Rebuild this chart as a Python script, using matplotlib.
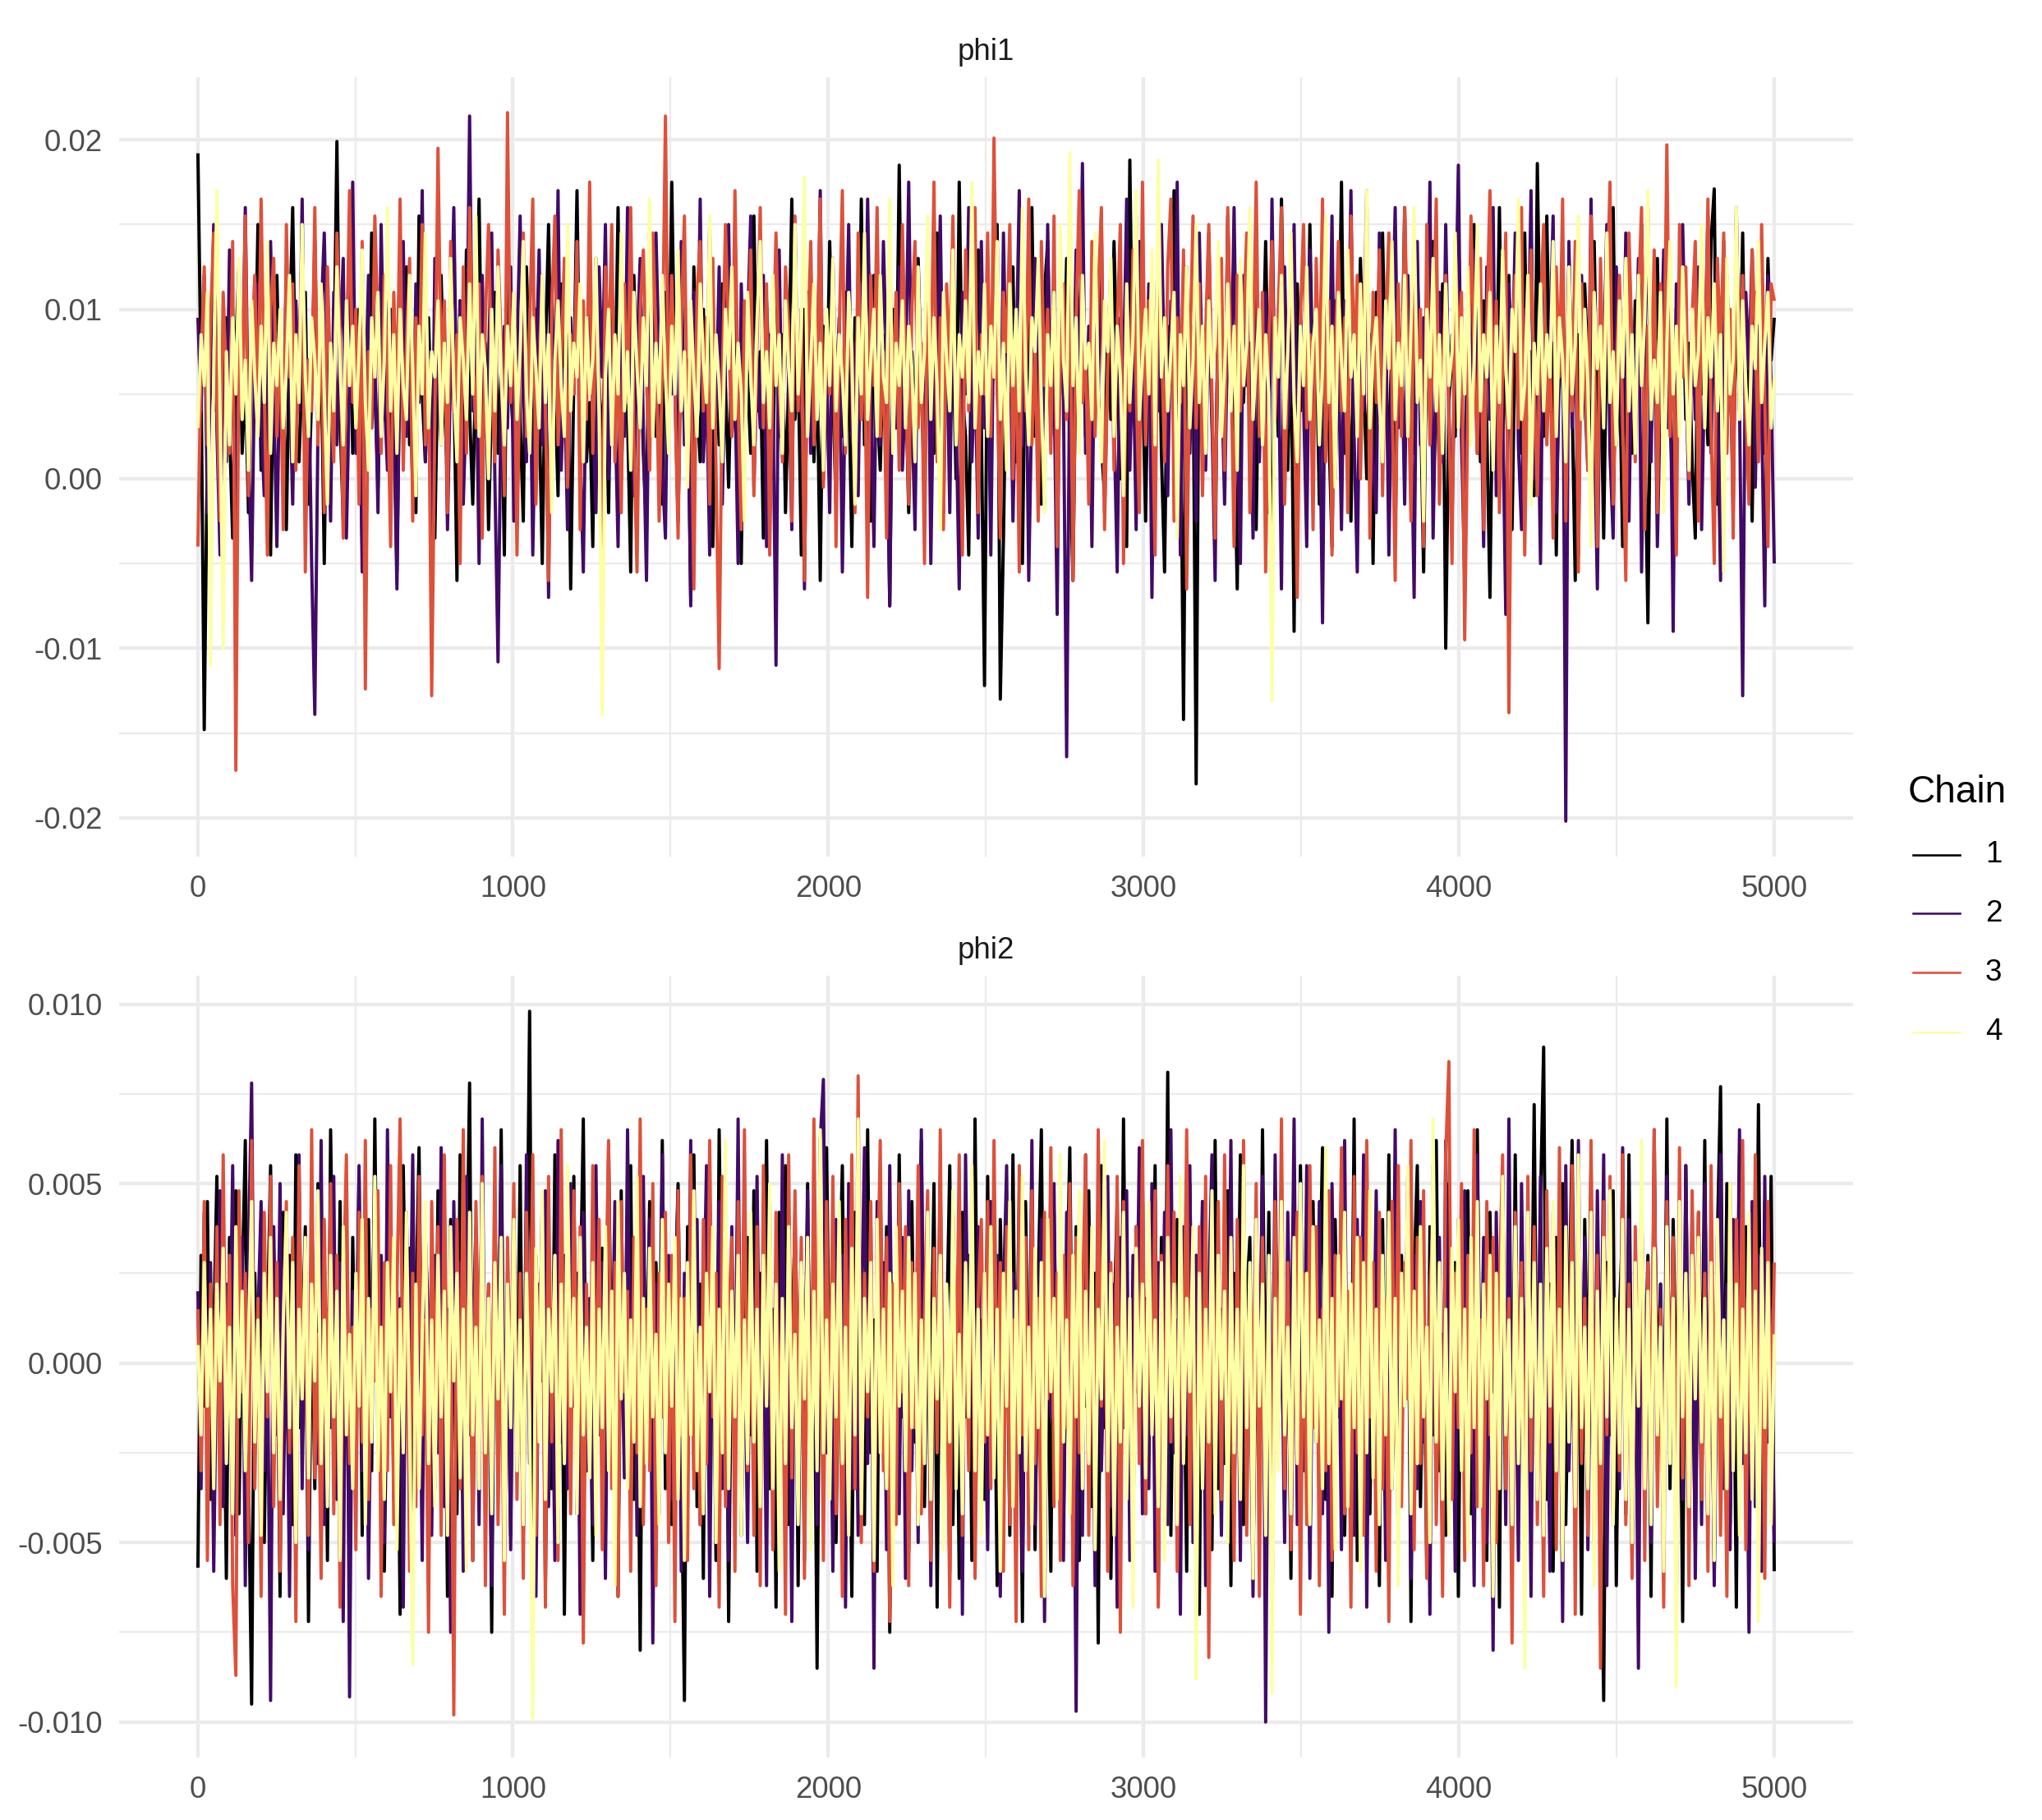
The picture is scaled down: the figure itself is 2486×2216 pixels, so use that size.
import numpy as np
import matplotlib
matplotlib.use("Agg")
import matplotlib.pyplot as plt
from matplotlib.ticker import FixedLocator, MultipleLocator
from matplotlib.lines import Line2D

# Trace values read (estimated) from the picture, in units of 1e-4,
# one value per ~10 iterations, 4 chains per parameter
phi1_chain1 = [
    192, 60, -148, 20, 75, 40, 110, -10, 55, 95, 30, -35, 80, 125, 15, 60, -20, 100, 45, 150, 5, 70, 35, -45, 90,
    120, 25, 55, -30, 85, 160, 40, 10, 65, 110, -15, 50, 140, 30, 75, -50, 95, 20, 60, 199, 35, -25, 80, 130, 15,
    45, 100, -40, 70, 25, 145, 55, -5, 85, 35, 115, 0, 60, -55, 90, 40, 125, 20, 65, -20, 155, 50, 10, 95, 30,
    -35, 75, 120, 45, 5, 85, 60, -60, 105, 25, 135, 40, -15, 70, 165, 35, 80, -30, 50, 110, 15, 65, -45, 140, 55,
    20, 90, 35, -25, 125, 60, 5, 100, 45, -50, 75, 150, 30, 55, -10, 115, 40, 85, -65, 60, 170, 25, 95, 10, 45,
    -40, 130, 55, 20, 80, -20, 105, 45, 160, 0, 70, 35, -55, 120, 50, 90, 15, -30, 145, 60, 25, 85, -15, 110, 40,
    175, 55, -25, 90, 30, 65, -70, 125, 45, 10, 100, 35, 150, -40, 70, 20, 115, 55, -5, 80, 135, 30, -50, 95, 60,
    15, 155, 40, 75, -35, 105, 50, 0, 130, 25, 85, -20, 60, 165, 35, 70, -45, 100, 45, 120, 10, 65, -60, 90, 30,
    140, 50, -15, 80, 25, 110, 60, -40, 95, 35, 165, 20, 70, -25, 120, 45, 5, 85, 55, -75, 100, 30, 185, 40, 65,
    -20, 75, 20, 130, 55, -5, 90, 35, 15, 145, 60, -20, 105, 40, 80, 0, 175, 50, 25, -45, 95, 65, 135, 30, -122,
    115, 45, 75, 150, -130, -35, 90, 55, 125, 10, 70, -50, 100, 40, 160, 25, 60, -15, 110, 140, 35, 80, -30, 95, 50,
    130, 15, -60, 85, 45, 105, 25, 70, 40, 120, 50, 20, -10, 95, 35, 140, 60, 0, 80, -40, 188, 45, 155, 30, 65,
    -25, 100, 40, 75, 135, 15, -55, 90, 55, 170, 25, 60, -142, 110, 45, 80, -180, 125, 20, 65, 145, 35, -20, 95, 50,
    10, 155, 60, 30, -65, 85, 45, 120, 20, 70, -30, 100, 55, 140, 35, -45, 80, 25, 165, 50, 5, 90, -90, 115, 40,
    65, 20, 150, 45, 85, -15, 60, 125, 30, -40, 105, 55, 175, 15, 70, -25, 95, 40, 130, 60, 0, 85, -50, 110, 35,
    145, 55, 20, 80, -35, 100, 45, 160, 30, 65, 15, 125, 50, -55, 90, 35, 140, 70, 5, 115, -100, 45, 85, 25, 135,
    55, -20, 95, 40, 150, 65, 10, 105, 30, -70, 80, 45, 160, 25, 60, 120, -30, 90, 50, 15, 145, 35, 75, -10, 186,
    60, 25, 155, 40, 80, -45, 100, 55, 20, 130, 45, -60, 85, 35, 115, 65, 0, 140, 30, 75, -35, 95, 50, 160, 20,
    70, -40, 125, 45, 15, 105, 60, 150, 30, -85, 90, 50, 130, 25, 70, 155, 40, -20, 100, 55, 120, 35, 80, 10, -35,
    115, 50, 75, 20, 140, 171, -15, 95, 30, 120, 60, 5, 105, 40, 145, 25, 80, -25, 110, 55, 90, 15, 130, 70, 95,
]
phi1_chain2 = [
    95, 40, 120, -20, 65, 150, 30, -45, 85, 10, 135, 55, -30, 100, 45, 160, 20, -60, 75, 115, 35, -10, 90, 140, 50,
    -40, 80, 25, 125, 60, -15, 105, 40, 165, 5, 70, -50, -139, 30, 95, 145, 55, -25, 110, 20, 80, 130, -35, 60, 175,
    15, 90, -55, 45, 120, 30, 70, -20, 150, 50, 5, 100, 35, -65, 85, 140, 25, 60, -5, 115, 45, 170, 10, 75, -40,
    130, 55, 20, 95, -30, 65, 160, 35, 105, -15, 50, 214, 40, 80, -50, 120, 25, 70, 145, 0, -108, 55, 90, 30, 125,
    -25, 75, 155, 45, 10, 100, -45, 60, 135, 20, 85, -70, 115, 40, 170, 5, 65, -30, 95, 50, 140, 15, -55, 80, 110,
    35, -20, 125, 60, 150, 0, 90, 45, -40, 105, 25, 160, 55, -10, 75, 130, 30, -60, 100, 40, 145, 65, 5, -35, 120,
    50, 85, -25, 140, 20, 70, -75, 110, 45, 165, 10, 60, -45, 95, 35, 125, -15, 80, 150, 25, 55, -50, 115, 40, 90,
    155, -5, 70, 30, 120, -40, 85, 50, -110, 135, 20, 100, 60, -30, 145, 40, 75, -65, 110, 15, 90, 55, 170, 0, 65,
    -20, 130, 45, 95, -55, 60, 150, 25, 80, -10, 115, 35, 165, 50, -40, 100, 20, 140, 65, -75, 85, 30, 125, 5, 55,
    175, 40, -30, 105, 60, 15, 135, -50, 75, 45, 155, 20, 90, -20, 120, 35, -65, 110, 50, 160, 10, 70, -35, 140, 30,
    85, -45, 115, 55, 0, 145, 40, 95, -25, 65, 170, 20, 105, -60, 50, 130, 35, 80, -15, 150, 25, 60, -80, 120, 45,
    -164, 75, 30, 135, 55, 186, 15, 90, -40, 110, 45, 155, -20, 70, 125, 35, -55, 95, 60, 165, 5, 80, -30, 140, 50,
    20, 115, -70, 85, 40, 150, 60, -10, 105, 30, 175, -45, 70, 125, 15, 90, -25, 145, 50, 5, 100, 35, -60, 130, 65,
    -15, 95, 45, 160, 25, -50, 120, 55, 80, -35, 140, 10, 70, 110, -20, 165, 40, 85, -65, 125, 30, 60, 150, -5, 100,
    45, -40, 135, 20, 90, 60, -85, 115, 35, 155, 0, 75, -30, 105, 50, 170, 25, -55, 95, 40, 130, 65, 10, -20, 145,
    55, 100, -45, 75, 160, 30, 85, -15, 120, 45, -70, 140, 20, 95, 55, 175, -35, 65, 110, 10, 150, 40, -25, 80, 185,
    25, -60, 105, 50, 135, 15, 70, -40, 125, 35, 160, -10, 90, 45, -80, 115, 60, 145, 20, -30, 100, 55, 170, 0, 75,
    -50, 130, 40, 85, 155, -20, 65, 110, -202, 140, 30, 95, -45, 120, 50, 5, 165, 35, -65, 100, 70, 150, 15, -35, 125,
    60, 20, 145, -25, 90, 45, 130, -55, 75, 160, 10, 105, -40, 55, 135, 30, 80, -90, 115, 40, 150, 65, -15, 95, 35,
    125, -30, 70, 155, 15, 100, 50, -60, 140, 25, 85, -20, 160, 45, -128, 110, 65, 135, -5, 90, 40, -75, 120, 55, -50,
]
phi1_chain3 = [
    -40, 70, 125, 20, 95, 145, 45, -25, 110, 60, 15, 140, -172, 85, 35, 155, -10, 75, 120, 30, 165, 50, -45, 100, 130,
    25, 90, -30, 150, 60, 115, 5, 80, 135, -55, 70, 40, 160, 20, 105, -20, 125, 55, 10, 145, 85, -35, 65, 170, 45,
    100, -15, 140, -124, 75, 30, 155, 90, 15, 120, 60, -40, 110, 45, 165, 5, 80, 130, -25, 95, 50, 150, 20, 70, -128,
    35, 195, 60, 105, -20, 140, 40, 85, -50, 125, 15, 160, 70, 30, 115, -35, 95, 150, 55, 10, 135, 80, -10, 216, 45,
    110, -45, 75, 145, 25, 90, 165, -15, 60, 120, 40, -60, 100, 155, 20, 70, 130, -5, 85, 50, 140, -30, 105, 35, 175,
    15, 95, 55, -40, 125, 70, 150, 10, 80, -20, 115, 45, 160, 25, -55, 100, 135, 60, 5, 145, 85, -25, 65, 214, 30,
    120, 50, -35, 90, 155, 20, 75, -65, 110, 140, 40, 95, -15, 130, 5, -112, 60, 150, 85, 25, 170, 45, -30, 105, 65,
    135, -10, 80, 160, 30, 115, -45, 70, 145, 55, 10, 125, 90, -25, 155, 40, 100, -60, 75, 140, 20, 60, 165, -5, 95,
    50, 130, -40, 85, 170, 15, 105, 60, -20, 145, 35, 90, -70, 120, 55, 160, 25, 75, -35, 135, 45, 110, 5, 150, 65,
    -15, 100, 140, 30, 80, -50, 125, 55, 175, 10, 95, -30, 115, 65, 155, 20, 70, -45, 135, 40, 105, 160, -20, 85, 50,
    145, 25, 201, 60, -35, 110, 75, 150, 0, 90, -55, 125, 40, 165, 20, 80, -25, 140, 55, 100, 15, 155, -40, 70, 115,
    35, 130, -60, 95, 170, 45, 75, -15, 140, 25, 110, 160, -30, 65, 120, 5, 90, 150, -50, 85, 40, 135, 55, -20, 175,
    20, 105, 60, -45, 145, 80, 10, 125, 165, -25, 95, 45, 135, -65, 70, 155, 30, 115, -10, 85, 150, 50, -35, 100, 130,
    5, 160, 70, -40, 120, 40, 90, 145, -20, 65, 175, 25, 110, -55, 80, 140, 35, 100, 160, -15, 75, 125, 50, -70, 95,
    150, 30, 85, -30, 130, 55, 165, 10, 105, -45, 70, 140, 40, 95, -20, 155, 65, 120, 0, 85, 170, -35, 110, 45, 135,
    -10, 90, 145, 55, -60, 115, 25, 160, 75, -25, 130, 50, 100, -40, 150, 20, 85, 165, -15, 60, 120, 35, -50, 140, 80,
    110, -95, 45, 155, 70, 15, 130, -30, 90, 170, 40, 105, -20, 65, 145, -138, 85, 120, 30, 160, -45, 75, 135, 55, -10,
    100, 150, 20, 80, -35, 125, 60, 165, -25, 95, 40, 140, -55, 115, 70, 5, 155, 85, -40, 130, 45, 100, 175, -15, 65,
    120, 35, -60, 145, 75, 10, 105, 160, -30, 90, 50, 135, -20, 115, 40, 197, 25, 80, -45, 150, 60, 125, 0, 95, 140,
    -25, 110, 55, 165, 30, -50, 130, 75, 145, 15, 100, -35, 155, 60, 120, 40, -15, 135, 85, 10, 150, 45, -40, 115, 105,
]
phi1_chain4 = [
    30, 85, 55, 110, -110, 65, 170, 40, -100, 75, 20, 95, 50, 130, 35, 70, 5, 105, 60, 25, 90, 45, 140, 15, 80,
    55, 100, 30, 65, 120, 10, 85, 45, 150, 60, 25, 95, 70, 35, 115, 50, -15, 80, 40, 125, 65, 20, 105, 55, 90,
    30, 75, 135, 45, 5, 95, 60, 110, 25, 70, 160, 40, 85, 15, 100, 55, 35, 120, 65, -10, 90, 50, 145, 30, 75,
    60, 105, 20, 80, 45, 130, 55, 10, 95, 70, 35, 115, 50, 155, 25, 85, 65, 0, 100, 40, 125, 60, 20, 90, 55,
    110, 35, 75, 140, 50, 15, 95, 65, 30, 120, 45, 85, -20, 70, 105, 55, 25, 150, 40, 80, 60, 115, 10, 95, 50,
    70, 130, 35, -139, 60, 100, 20, 85, 50, 145, 40, 75, 5, 110, 65, 30, 95, 55, 165, 25, 80, 45, 120, 60, 15,
    90, 50, 135, 40, 75, -5, 105, 60, 25, 115, 70, 45, 155, 30, 85, 55, 10, 100, 65, 125, 35, 80, 50, -25, 110,
    60, 20, 95, 140, 45, 75, 30, 120, 55, 85, 15, 105, 65, 40, 150, 50, 90, 178, 25, 70, 115, 35, 80, 5, 100,
    55, 130, 40, 85, 60, 20, 110, 75, -15, 95, 50, 145, 35, 70, 100, 25, 120, 60, 45, 165, 15, 80, 55, 105, 30,
    90, 65, 10, 125, 45, 75, 155, 35, 95, 55, -30, 110, 70, 40, 135, 20, 85, 60, 105, 45, 175, 30, 75, 50, 115,
    25, 90, 60, 140, 35, 80, 5, 115, 55, 100, 40, 160, 65, 20, 95, 75, 130, 45, -20, 85, 55, 110, 30, 150, 70,
    40, 192, 55, 95, 15, 120, 65, 80, 35, 145, 50, 10, 105, 75, 130, 25, 90, 60, -10, 115, 45, 85, 170, 35, 70,
    100, 50, 135, 20, 188, 60, 95, 40, 75, 110, -35, 85, 55, 125, 30, 70, 150, 45, 90, 15, 105, 60, 80, 140, 25,
    65, 115, 40, 90, 5, 130, 55, 80, 160, 35, 70, 100, 20, 85, 50, -131, 95, 60, 120, 30, 75, 145, 45, 10, 90,
    55, 125, 35, 80, 100, 20, 65, 155, 45, 90, -5, 110, 70, 40, 135, 60, 85, 25, 115, 50, 170, 30, 75, 95, 45,
    10, 105, 65, 140, 35, 80, 55, 120, 25, 90, 160, 45, 70, -25, 100, 60, 130, 40, 85, 15, 115, 55, 75, 145, 30,
    95, 50, 125, 20, 70, 150, 40, 85, 60, 110, 5, 90, 45, 135, 65, 30, 100, 75, 165, 35, 55, 120, -15, 80, 50,
    115, 40, 85, 60, 140, 25, 95, 70, 10, 125, 50, 80, 155, 35, 100, 55, -40, 110, 65, 90, 30, 145, 45, 75, 20,
    105, 60, 130, 40, 85, 15, 120, 55, 95, 170, 35, 70, 45, 110, -20, 80, 140, 50, 90, 25, 125, 65, 5, 100, 55,
    75, 150, 30, 95, 60, 115, 40, 85, -55, 130, 50, 70, 160, 35, 105, 55, 20, 90, 65, 140, 45, 80, 110, 30, 60,
]

phi2_chain1 = [
    -57, 30, -12, 45, -38, 8, 52, -25, 15, -60, 35, -5, 48, -42, 20, 62, -30, -95, 25, -15, 40, -50, 10, 55, -22,
    18, -65, 42, -8, 30, -45, 58, -18, 5, 38, -72, 22, -35, 50, -10, 28, -55, 65, 0, -28, 45, -40, 15, -62, 35,
    -20, 52, -48, 12, 40, -30, 68, -15, 25, -58, 8, 45, -38, 20, -70, 55, -5, 32, -45, 15, 60, -25, 38, -52, 10,
    -35, 48, -12, 28, -65, 40, 5, -42, 58, -20, 18, 78, -55, 35, -8, 50, -32, 22, -75, 42, -15, 65, -28, 12, -48,
    38, -22, 55, -40, 8, 98, -50, 30, -12, 45, -62, 20, -35, 58, -5, 40, -70, 25, -18, 52, -42, 15, 68, -30, 5,
    -55, 42, -20, 32, -48, 60, -10, 25, -65, 48, -28, 10, 55, -38, 18, -80, 35, -8, 45, -52, 28, -15, 62, -35, 22,
    -45, 15, 50, -25, -94, 38, -12, 58, -40, 22, -60, 45, -18, 30, -55, 65, -5, 40, -72, 18, -30, 52, -48, 8, 35,
    -20, 48, -58, 25, -10, 62, -35, 15, -68, 42, -22, 55, -45, 5, 38, -62, 28, -15, 50, -40, 20, -85, 45, -28, 60,
    -12, 35, -50, 18, 55, -32, 8, -65, 42, -18, 28, -45, 65, -25, 12, -58, 48, -8, 38, -75, 22, -35, 58, -15, 30,
    -52, 45, -22, 15, 62, -40, 25, -10, 50, -68, 35, -28, 8, 55, -45, 20, -60, 42, -15, 30, -55, 68, -20, 12, -38,
    52, -25, 18, -62, 40, -8, 28, -48, 58, -30, 10, -72, 45, -15, 35, -52, 22, 65, -38, 5, -58, 42, -20, 30, -45,
    15, 60, -28, 38, -55, 20, -12, 48, -40, 25, -78, 55, -18, 32, -60, 10, 45, -35, 68, -22, 15, -50, 38, -8, 52,
    -42, 28, -15, 55, -65, 35, -25, 81, -48, 18, 40, -30, 12, -58, 50, -20, 30, -70, 45, -5, 22, -52, 62, -35, 15,
    -28, 48, -62, 25, -10, 58, -45, 18, 35, -55, 8, -32, 65, -20, 42, -75, 28, -12, 50, -40, 20, -60, 38, -25, 55,
    -8, 32, -52, 45, -22, 15, 60, -38, 25, -65, 40, -15, 52, -48, 10, -30, 68, -55, 35, -18, 48, -42, 22, 5, -62,
    40, -25, 58, -35, 12, -50, 30, -10, 45, -72, 25, 55, -40, 18, -58, 38, -20, 62, -30, 8, -48, 50, -15, 28, -65,
    35, -18, 48, -42, 20, 65, -28, 10, -55, 42, -8, 30, -68, 52, -22, 15, -45, 58, -35, 25, -60, 38, -12, 72, -30,
    45, 88, -38, 22, -58, 35, -15, 50, -45, 12, 62, -25, 30, -70, 40, -10, 55, -50, 18, -32, -94, 28, -20, 48, -62,
    15, 38, -42, 58, -25, 10, -55, 45, -18, 30, -65, 52, -8, 22, -48, 68, -35, 40, -12, 25, -72, 55, -28, 8, -50,
    42, -20, 62, -38, 15, -58, 35, 77, -30, 50, -45, 20, -68, 58, -12, 38, -52, 28, -22, 72, -40, 45, -15, 52, -58,
]
phi2_chain2 = [
    20, -35, 42, -15, 28, -58, 10, 48, -40, 22, -8, 55, -48, 15, 35, -62, 30, 78, -25, 12, 45, -30, 5, -94, 38,
    -20, 50, -42, 18, -65, 32, -10, 58, -35, 25, -52, 40, 8, -28, 62, -45, 15, -18, 52, -38, 28, -72, 45, -93, 20,
    -12, 55, -30, 38, -60, 10, 48, -22, 30, -50, 65, -15, 25, -42, 18, -68, 42, -8, 58, -35, 22, -55, 35, 12, -48,
    30, -25, 60, -40, 15, -75, 45, -10, 28, -58, 52, -20, 8, 38, -45, 68, -30, 20, -62, 42, -15, 55, -38, 25, -52,
    40, -18, 12, -48, 58, -28, 35, -65, 22, -5, 48, -40, 15, -55, 62, -22, 30, -35, 50, -12, 25, -70, 42, -30, 18,
    -45, 55, -20, 28, -60, 38, -8, 45, -52, 20, -32, 65, -15, 35, -48, 10, 52, -25, 40, -78, 22, -42, 58, -10, 30,
    -38, 15, 48, -58, 25, -18, 62, -30, 40, -45, 8, 55, -65, 28, -12, 45, -35, 18, -55, 38, -22, 68, -40, 12, -50,
    35, -15, 52, -28, 20, -62, 45, -38, 10, -48, 58, -20, 30, -72, 42, -8, 25, -55, 48, -32, 15, -45, 62, 79, -25,
    18, -58, 40, -12, 30, -68, 50, -35, 22, -48, 10, 60, -28, 38, -85, 45, -15, 28, -52, 55, -22, 12, -42, 35, -60,
    48, -30, 20, -50, 65, -18, 35, -62, 25, -8, 52, -40, 15, -58, 42, -25, 30, -70, 58, -12, 22, -48, 38, -35, 10,
    -52, 45, -20, 30, -65, 18, 55, -38, 25, -10, 48, -58, 35, -28, 62, -45, 12, 40, -72, 20, -15, 50, -35, 28, -55,
    42, -22, 15, -97, 38, -48, 58, -12, 25, -62, 45, -30, 10, 52, -40, 22, -68, 35, -18, 48, -55, 30, -8, 60, -42,
    18, -35, 50, -58, 28, -15, 42, -45, 65, -25, 12, -70, 38, -20, 55, -50, 30, -8, 45, -62, 20, 58, -32, 15, -48,
    35, -18, 62, -40, 22, -55, 48, -28, 10, -65, 40, -12, 52, -100, 28, -35, 58, -22, 15, -50, 42, -8, 68, -45, 25,
    -30, 55, -60, 18, -20, 45, -42, 32, -75, 50, -15, 28, -52, 62, -35, 12, -48, 40, -25, 58, -68, 22, -10, 48, -38,
    15, -55, 38, -28, 65, -42, 20, -12, 52, -60, 30, -35, 45, -22, 8, -70, 55, -18, 35, -48, 62, -30, 25, -58, 40,
    -15, 48, -38, 22, -62, 58, -25, 35, -50, 12, -80, 42, -20, 30, -45, 68, -32, 18, -55, 50, -12, 28, -65, 38, -22,
    52, -40, 15, -58, 42, -18, 25, -72, 55, -30, 10, -48, 62, -25, 35, -52, 20, -38, 48, -15, 58, -62, 30, -45, 12,
    -35, 60, -22, 40, -55, 18, -85, 45, -12, 28, -50, 65, -30, 22, -42, 52, -18, 35, -68, 15, -38, 55, -25, 42, -60,
    25, -45, 50, -20, 32, -62, 12, 58, -35, 22, -52, 40, -15, 65, -28, 18, -75, 45, -40, 30, -58, 52, -22, 15, -50,
]
phi2_chain3 = [
    15, -30, 45, -55, 22, -12, 38, -45, 58, -20, 30, -62, -87, 48, -8, 25, -50, 62, -35, 18, -65, 42, -15, 52, -40,
    28, -58, 12, 45, -25, 35, -72, 55, -10, 20, -48, 65, -32, 8, -60, 40, -18, 50, -42, 30, -68, 18, 58, -28, 10,
    -52, 42, -22, 62, -38, 15, -5, 48, -65, 28, -30, 55, -45, 20, 68, -15, 35, -58, 25, -40, 52, -20, 12, -75, 45,
    -10, 38, -48, 58, -25, 18, -98, 40, -35, 65, -18, 28, -55, 45, -8, 52, -62, 22, -30, 60, -45, 15, -70, 35, -12,
    50, -38, 25, -60, 42, -15, 58, -48, 10, 35, -68, 52, -22, 30, -55, 65, -28, 18, -42, 48, -12, 38, -78, 22, -32,
    55, -18, 40, -52, 12, 62, -35, 28, -65, 45, -8, 20, -58, 35, -25, 68, -45, 15, -30, 50, -62, 25, -15, 42, -50,
    30, -72, 48, -20, 18, -55, 58, -35, 8, -45, 40, -28, 62, -15, 25, -68, 52, -40, 12, 35, -58, 45, -22, 65, -30,
    20, -48, 38, -62, 55, -10, 28, -52, 42, -25, 15, -70, 58, -32, 48, -18, 35, -60, 22, -40, 68, -12, 30, -55, 45,
    -28, 52, -42, 18, -65, 40, -20, 58, -35, 80, -50, 25, -15, 45, -58, 12, 62, -30, 35, -72, 22, -45, 50, -8, 38,
    -62, 28, -18, 55, -42, 15, 48, -55, 32, -25, 65, -38, 10, -68, 42, -12, 58, -48, 25, -30, 52, -60, 18, 40, -22,
    45, -35, 62, -15, 28, -58, 38, -45, 12, -72, 55, -20, 35, -52, 48, -28, 18, -65, 42, -10, 60, -40, 25, -55, 30,
    -18, 50, -62, 35, -25, 15, 58, -48, 22, -38, 65, -12, 40, -58, 28, -32, 52, -75, 45, -20, 12, -50, 38, -28, 62,
    -42, 20, -15, 48, -68, 30, -35, 55, -22, 42, -58, 18, -10, 65, -45, 25, -60, 38, -28, 52, -82, 35, -18, 45, -38,
    58, -25, 12, -55, 40, -30, 62, -48, 22, -15, 50, -65, 35, -40, 18, -58, 45, -20, 68, -35, 28, -52, 10, 42, -70,
    25, -45, 55, -18, 38, -62, 15, -30, 48, -55, 30, -12, 60, -42, 20, -68, 52, -25, 35, -48, 62, -15, 28, -58, 42,
    -35, 18, -72, 45, -22, 55, -40, 28, -10, 62, -52, 35, -28, 48, -60, 20, 40, -45, 15, -65, 58, 84, -38, 25, -18,
    50, -55, 30, -25, 65, -40, 12, -62, 45, -20, 35, -50, 22, 58, -35, 18, -78, 42, -12, 28, -58, 52, -30, 38, -45,
    15, -65, 48, -22, 32, -52, 60, -38, 25, -15, 55, -70, 40, -28, 18, -48, 62, -35, 30, -85, 45, -20, 52, -42, 12,
    -30, 58, -45, 22, -60, 38, -12, 50, -55, 28, -25, 65, -40, 15, -68, 45, -18, 35, -52, 60, -32, 20, -62, 48, -8,
    42, -38, 25, -58, 55, -22, 35, -48, 12, -65, 50, -28, 40, -15, 62, -52, 18, -35, 58, -42, 30, -60, 45, -20, 28,
]
phi2_chain4 = [
    5, -20, 28, -12, 15, -35, 22, -5, 32, -28, 10, -42, 38, -15, 20, -30, 8, 45, -22, 12, -48, 25, -8, 35, -25,
    18, -38, 10, 42, -18, 28, -50, 15, -10, 35, -32, 22, -5, 48, -28, 12, -40, 30, -15, 20, -55, 38, -20, 8, -35,
    25, -12, 40, -45, 18, -22, 52, -30, 10, -38, 28, -8, 35, -52, 15, -25, 42, -18, -84, 22, -35, 8, 45, -28, 12,
    -40, 30, -15, 20, -48, 38, -5, 25, -32, 15, -58, 42, -20, 10, -35, 50, -25, 18, -42, 28, -10, 35, -55, 22, -18,
    40, -30, 12, -45, 25, -15, -99, 32, -22, 48, -38, 15, -8, 30, -50, 22, -28, 55, -12, 18, -42, 35, -20, 10, -32,
    28, -48, 15, -18, 38, -30, 20, -62, 45, -10, 25, -35, 12, -22, 52, -40, 18, -28, 32, -15, 8, -45, 40, -25, 22,
    -12, 35, -38, 18, -55, 28, -20, 48, -30, 10, -42, 25, -8, 38, -50, 15, -25, 62, -35, 20, -15, 30, -48, 12, -28,
    42, -22, 15, -40, 30, -12, 50, -35, 22, -58, 18, -28, 38, -18, 8, -45, 28, -10, 35, -52, 20, -30, 65, -25, 12,
    -38, 22, -15, 45, -28, 10, -48, 32, -20, 68, -42, 18, -8, 28, -55, 40, -25, 15, -35, 25, -62, 38, -12, 20, -30,
    35, -18, 25, -45, 12, -28, 42, -38, 18, -10, 30, -52, 22, -22, 48, -35, 8, -42, 28, -15, 55, -30, 15, -48, 25,
    -20, 38, -32, 15, -58, 25, -12, 45, -40, 20, -25, 52, -30, 10, -45, 32, -18, 28, -65, 40, -8, 18, -38, 58, -22,
    12, -42, 30, -15, 48, -35, 20, -28, 38, -52, 15, -10, 62, -30, 25, -48, 10, -22, 42, -38, 18, -68, 32, -12, 22,
    -32, 45, -20, 12, -40, 28, -55, 35, -15, 22, -45, 52, -28, 18, -8, 38, -88, 25, -35, 15, -22, 48, -42, 30, -10,
    20, -50, 35, -25, 15, -38, 55, -18, 28, -60, 40, -12, 22, -48, 30, -92, 18, -30, 45, -20, 10, -42, 35, -28, 50,
    -15, 25, -45, 38, -22, 12, -35, 60, -28, 18, -52, 30, -10, 42, -40, 22, -18, 35, -58, 28, -25, 48, -32, 15, -45,
    30, -20, 42, -35, 18, -62, 25, -12, 55, -42, 20, -28, 38, -15, 10, -50, 68, -22, 28, -38, 15, -48, 32, -8, 40,
    -30, 15, -52, 35, -18, 45, -40, 22, -10, 30, -65, 25, -35, 52, -20, 12, -45, 38, -28, 18, -85, 42, -15, 28, -38,
    22, -48, 32, -12, 45, -30, 15, -55, 38, -22, 28, -40, 58, -18, 10, -35, 42, -62, 20, -28, 35, -15, 48, -45, 18,
    -25, 40, -38, 15, -50, 28, -12, 62, -35, 20, -45, 32, -20, 10, -58, 38, -28, 18, -90, 45, -15, 25, -40, 30, -10,
    35, -22, 18, -42, 28, -55, 40, -15, 12, -35, 50, -30, 22, -48, 15, -25, 42, -38, 20, -72, 32, -18, 28, -45, 8,
]

VALUE_UNIT = 1e-4
N_ITER = 5000
chain_labels = ["1", "2", "3", "4"]
chain_colors = ["#000004", "#420A68", "#DD513A", "#FCFFA4"]
panel_titles = ["phi1", "phi2"]
x_ticks = [0, 1000, 2000, 3000, 4000, 5000]
x_ticklabels = ["0", "1000", "2000", "3000", "4000", "5000"]
phi1_yticks = [-0.02, -0.01, 0.0, 0.01, 0.02]
phi1_yticklabels = ["-0.02", "-0.01", "0.00", "0.01", "0.02"]
phi2_yticks = [-0.010, -0.005, 0.0, 0.005, 0.010]
phi2_yticklabels = ["-0.010", "-0.005", "0.000", "0.005", "0.010"]

panels = [
    (panel_titles[0], [phi1_chain1, phi1_chain2, phi1_chain3, phi1_chain4],
     phi1_yticks, phi1_yticklabels, 0.005),
    (panel_titles[1], [phi2_chain1, phi2_chain2, phi2_chain3, phi2_chain4],
     phi2_yticks, phi2_yticklabels, 0.0025),
]

plt.rcParams['font.family'] = ['Liberation Sans', 'DejaVu Sans']

W, H, DPI = 2487, 2216, 300
fig = plt.figure(figsize=(W / DPI, H / DPI), dpi=DPI)
fig.patch.set_facecolor("white")

left, right = 145 / W, 2256 / W
axes_boxes = [
    (1 - 1043 / H, 1 - 94 / H),
    (1 - 2140 / H, 1 - 1188 / H),
]

GRID = "#EBEBEB"
for (title, series, yt, ytl, yminor), (b, t) in zip(panels, axes_boxes):
    ax = fig.add_axes([left, b, right - left, t - b])
    for vals, col in zip(series, chain_colors):
        v = np.asarray(vals, dtype=float) * VALUE_UNIT
        it = np.linspace(1, N_ITER, len(v))
        ax.plot(it, v, color=col, lw=0.95, solid_joinstyle="round",
                solid_capstyle="butt", zorder=2)
    ax.margins(x=0.05, y=0.05)
    ax.xaxis.set_major_locator(FixedLocator(x_ticks))
    ax.set_xticklabels(x_ticklabels)
    ax.xaxis.set_minor_locator(MultipleLocator(500))
    ax.yaxis.set_major_locator(FixedLocator(yt))
    ax.set_yticklabels(ytl)
    ax.yaxis.set_minor_locator(MultipleLocator(yminor))
    ax.grid(which="major", color=GRID, lw=1.05, zorder=0)
    ax.grid(which="minor", color=GRID, lw=0.55, zorder=0)
    ax.set_axisbelow(True)
    for s in ax.spines.values():
        s.set_visible(False)
    ax.tick_params(which="both", length=0)
    ax.tick_params(axis="both", which="major", labelsize=8.8, labelcolor="#4D4D4D")
    ax.tick_params(axis="y", pad=4.8)
    ax.tick_params(axis="x", pad=5.2)
    ax.set_facecolor("white")
    ax.set_title(title, fontsize=8.8, color="#1A1A1A", pad=5)

# Legend (drawn in figure coordinates)
fig.text(2323 / W, 1 - 977 / H, "Chain", fontsize=11, color="black",
         ha="left", va="baseline")
key_y = [1041, 1112, 1184, 1257]
for lab, col, ky in zip(chain_labels, chain_colors, key_y):
    yf = 1 - ky / H
    fig.add_artist(Line2D([2329 / W, 2386 / W], [yf, yf], color=col, lw=0.62,
                          transform=fig.transFigure))
    fig.text(2417 / W, yf, lab, fontsize=8.8, color="black", ha="left", va="center")

fig.savefig("out.png", dpi=DPI, facecolor="white")
